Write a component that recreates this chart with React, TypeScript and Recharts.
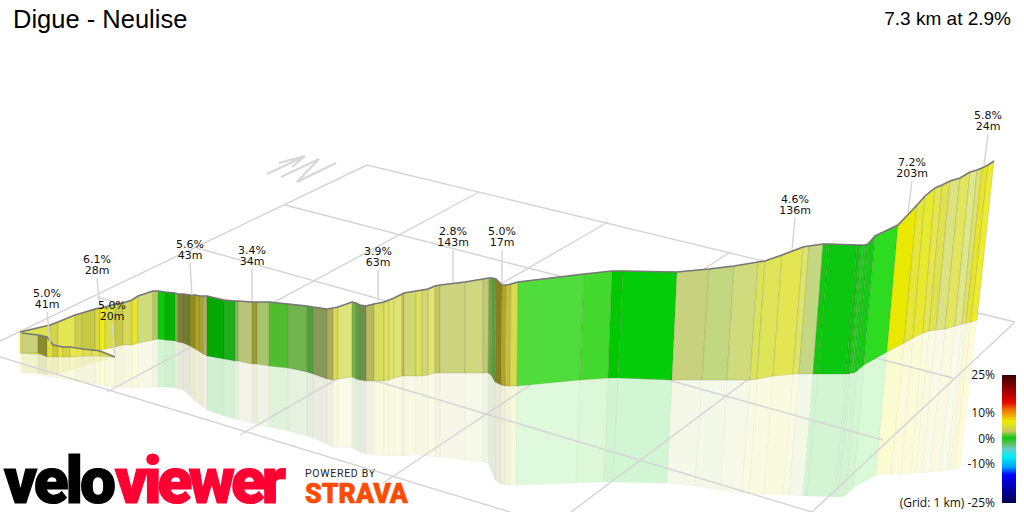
import { ComposedChart, Line, Scatter, XAxis, YAxis, ReferenceArea } from 'recharts'

// route stations: road edge, foot of the wall, foot of the reflection
const roadX = [20,50,58,75,82,95,100,105,115,123,132,138,153,158,165,175,178,183,190,195,200,203,207,224,235,238,252,257,269,288,307,313,327,333,338,352,356,360,366,374,384,389,394,402,404,416,422,428,435,440,465,483,489,492,496,502,506,511,518,584,612,623,677,709,734,758,765,782,803,809,823,829,857,860,862,865,868,875,898,917,925,935,942,950,960,970,977,982,988,994]
const roadY = [332,325,322,315,313,309,308,307,304,303,300,296,291,291,292,293,294,294,295,295,296,296,296,300,301,301,302,302,302,304,306,307,309,308,307,302,303,305,306,304,302,300,298,294,293,291,290,289,286,285,282,279,278,278,279,285,285,284,282,274,271,271,272,269,266,262,261,255,247,246,244,244,245,245,245,245,244,236,225,205,196,188,185,181,178,172,170,168,165,161]
const footX = [20,50,58,75,82,95,100,105,115,123,132,138,153,158,165,175,178,183,190,195,200,203,207,224,235,238,252,257,269,288,307,313,327,333,338,352,356,360,366,374,384,389,394,402,404,416,422,428,435,440,465,483,488,491,495,501,505,510,517,580,608,618,672,702,727,750,757,773,793,799,813,818,846,849,851,854,857,864,887,904,913,923,929,936,945,955,962,966,971,977]
const footY = [353,355,354,352,351,350,350,349,347,345,345,343,340,339,340,341,342,343,346,349,352,354,356,359,361,361,364,364,366,368,372,374,379,380,379,377,379,380,381,381,381,380,378,376,376,376,376,375,373,373,373,373,373,375,382,385,386,386,386,380,378,378,380,380,380,380,379,376,374,374,374,374,374,374,373,373,371,365,352,343,338,333,331,330,329,326,324,323,322,320]
const floorX = [20,50,58,75,82,95,100,105,115,123,132,138,153,158,165,175,178,183,190,195,200,203,207,224,235,238,252,257,269,288,307,313,327,333,338,352,356,360,366,374,384,389,394,402,404,416,422,428,435,440,465,483,488,491,495,501,505,510,516,576,604,613,667,695,720,742,749,764,783,789,803,807,835,838,840,843,846,853,876,891,901,911,916,922,930,940,947,950,954,960]
const floorY = [372,377,378,381,382,384,385,386,387,388,388,388,387,387,387,388,389,390,396,401,405,407,410,416,419,420,423,425,427,431,436,438,444,447,447,448,450,452,454,455,456,456,456,456,456,455,455,456,457,457,460,462,463,470,480,484,485,485,485,483,482,482,483,486,490,493,493,494,495,495,496,496,497,497,497,497,495,488,475,474,474,473,473,473,472,471,470,470,469,468]
const gradeColor = ['#dfe24f','#d2d44e','#e2e654','#cdcf52','#c6c945','#d8da3f','#eeee1e','#d8dc4f','#c8c94b','#d6d85c','#e8e72e','#cfdc7a','#b7c66e','#0ec70e','#00b400','#7ab645','#7e7e3a','#6f7b2e','#8e8d1f','#b0a020','#a7a648','#a9b06a','#00a800','#1cae1c','#7cbf58','#b7c47a','#9e9a36','#a9c46e','#50bc30','#72b450','#50a040','#889858','#b0aa60','#d8dc50','#dde47c','#7ab050','#5f9f3f','#6f8f50','#b8b860','#d8dc60','#dde060','#dde470','#dde470','#c0c060','#d0d870','#dde060','#cfd872','#dee47a','#c0c860','#ccd47f','#cfd880','#c2c878','#6da843','#5f9a3d','#8a7f20','#b0a428','#c4be3e','#d8da50','#50dc3c','#44d92e','#00c800','#05cc09','#c8d27e','#c1d880','#cfdb7c','#dbe25c','#dfe558','#e3e652','#dde46a','#c4d884','#0fc80f','#0cc70f','#10c010','#18c818','#20cc20','#18c818','#18c818','#2ddc20','#e8e800','#e4e63a','#e8ea30','#e5e650','#dfe24f','#dbe280','#e2e560','#dde88a','#dde26c','#e6e52c','#eced30']

// the short first stretch of the route, in front of the main wall
const tailX = [22,38,47,53,58,63,70,83,92,100,115]
const tailY = [333,335,337,345,346,347,347,349,350,351,357]
const tailFootY = [353,353,357,357,357,357,357,356,356,356,357]
const tailFloorY = [373,373,375,374,373,372,370,366,363,361,357]
const tailColor = ['#c8d27c','#8b8c2f','#dede3c','#c8c940','#e0e040','#d5d54a','#e6e64c','#dede50','#e4e45a','#dada50']

// grid of the ground plane, 1 km squares
const gridLines = [
  [[0,341],[367,165]], [[107,392],[479,192]], [[240,435],[608,222]], [[383,483],[730,252]], [[571,512],[873,286]], [[812,512],[1015,322]],
  [[367,165],[1015,322]], [[285,205],[953,378]], [[197,248],[883,440]], [[97,297],[812,512]], [[0,357],[510,512]],
]
const compassStrokes = [
  [[267,174],[305,156]], [[279,163],[305,156]], [[292,167],[305,156]],
  [[281,177],[319,159]], [[319,159],[297,182]], [[297,182],[336,163]],
]

// climb labels
const climbGrade = ['5.0%','6.1%','5.0%','5.6%','3.4%','3.9%','2.8%','5.0%','4.6%','7.2%','5.8%']
const climbLength = ['41m','28m','20m','43m','34m','63m','143m','17m','136m','203m','24m']
const climbLabelX = [47,97,112,190,252,378,453,502,795,912,988]
const climbLabelY = [297,263,309,248,254,255,235,235,203,166,119]
const climbTipX = [50,100,115,192,252,378,453,502,792,908,984]
const climbTipY = [343,308,355,295,301,301,283,283,250,213,165]

const scaleStops = [
  ['0%','#3a0000'],['8%','#7a0000'],['18%','#d00000'],['22%','#e81000'],['27%','#f07000'],['32%','#f0b000'],['36%','#ecec00'],['44%','#c8c860'],['49%','#10c810'],['54%','#60c060'],['58%','#60d0d0'],['64%','#00f0f0'],['72%','#00a0ff'],['78%','#0000ff'],['90%','#0000a0'],['100%','#000050'],
]
const scaleLabels = ['25%','10%','0%','-10%','(Grid: 1 km) -25%']
const scaleLabelY = [379,417,443,468,507]

const quad = (ax: number, ay: number, bx: number, by: number, cx: number, cy: number, dx: number, dy: number) => [
  { x: ax, y: ay }, { x: bx, y: by }, { x: cx, y: cy }, { x: dx, y: dy }, { x: ax, y: ay },
]

const seg = (pts: number[][]) => pts.map(([x, y]) => ({ x, y }))

const plainLine = (key: string, data: any[], stroke: string, strokeWidth: number) => (
  <Line key={key} data={data} dataKey="y" stroke={stroke} strokeWidth={strokeWidth} dot={false} activeDot={false} legendType="none" isAnimationActive={false} />
)

const panel = (key: string, data: any[], fill: string, fillOpacity: number, stroke: string) => (
  <Line key={key} data={data} dataKey="y" stroke={stroke} strokeWidth={0.7} dot={false} activeDot={false} legendType="none" isAnimationActive={false}
    style={{ fill, fillOpacity }} />
)

function ClimbLabel(props: any) {
  const { cx, cy, payload } = props
  return (
    <g fontFamily="DejaVu Sans" fontSize={11} fill="#111" textAnchor="middle">
      <text x={cx} y={cy}>{payload.grade}</text>
      <text x={cx} y={cy + 11}>{payload.len}</text>
    </g>
  )
}

export default function App() {
  const climbs = climbGrade.map((grade, i) => ({ x: climbLabelX[i], y: climbLabelY[i], grade, len: climbLength[i] }))

  return (
    <div style={{ position: 'absolute', left: 0, top: 0, width: 1024, height: 512, background: '#fff' }}>
      <ComposedChart width={1024} height={512} margin={{ top: 0, right: 0, bottom: 0, left: 0 }}>
        <defs>
          <linearGradient id="gradeScale" x1="0" y1="0" x2="0" y2="1">
            {scaleStops.map(([offset, color]) => <stop key={offset} offset={offset} stopColor={color} />)}
          </linearGradient>
        </defs>
        <XAxis dataKey="x" type="number" domain={[0, 1024]} hide />
        <YAxis dataKey="y" type="number" domain={[0, 512]} reversed hide />

        {gradeColor.map((c, i) => panel(`floor${i}`, quad(footX[i], footY[i], footX[i + 1], footY[i + 1], floorX[i + 1], floorY[i + 1], floorX[i], floorY[i]), c, 0.18, 'rgba(120,120,90,0.05)'))}
        {tailColor.map((c, i) => panel(`tfloor${i}`, quad(tailX[i], tailFootY[i], tailX[i + 1], tailFootY[i + 1], tailX[i + 1], tailFloorY[i + 1], tailX[i], tailFloorY[i]), c, 0.18, 'rgba(120,120,90,0.05)'))}

        {gridLines.map((l, i) => plainLine(`grid${i}`, seg(l), '#d4d4d4', 1.4))}
        {compassStrokes.map((l, i) => plainLine(`compass${i}`, seg(l), '#d6d6d6', 2))}

        {gradeColor.map((c, i) => panel(`wall${i}`, quad(roadX[i], roadY[i], roadX[i + 1], roadY[i + 1], footX[i + 1], footY[i + 1], footX[i], footY[i]), c, 1, 'rgba(90,80,30,0.22)'))}
        {plainLine('road', seg(roadX.map((x, i) => [x, roadY[i]])), '#777', 1.6)}

        {tailColor.map((c, i) => panel(`tail${i}`, quad(tailX[i], tailY[i], tailX[i + 1], tailY[i + 1], tailX[i + 1], tailFootY[i + 1], tailX[i], tailFootY[i]), c, 1, 'rgba(90,80,30,0.22)'))}
        {plainLine('tailRoad', seg(tailX.map((x, i) => [x, tailY[i]])), '#777', 1.6)}

        {climbTipX.map((x, i) => plainLine(`leader${i}`, seg([[climbLabelX[i], climbLabelY[i] + 15], [x, climbTipY[i]]]), '#d4d4d4', 1.4))}
        <Scatter data={climbs} shape={ClimbLabel} isAnimationActive={false} legendType="none" />

        <ReferenceArea x1={1002} x2={1016} y1={375} y2={503} fill="url(#gradeScale)" fillOpacity={1} stroke="none" ifOverflow="visible" />

        <text x={13} y={28} fontFamily="Liberation Sans" fontSize={25.5} fill="#000">Digue - Neulise</text>
        <text x={1011} y={25} fontFamily="Liberation Sans" fontSize={19} fill="#000" textAnchor="end">7.3 km at 2.9%</text>
        {scaleLabels.map((t, i) => (
          <text key={t} x={995} y={scaleLabelY[i]} fontFamily="Open Sans" fontSize={12} fill="#111" textAnchor="end">{t}</text>
        ))}

        <text x={4} y={503} fontFamily="Roboto" fontWeight={900} fontSize={64} fill="#000" stroke="#000" strokeWidth={1.2} textLength={112} lengthAdjust="spacing">velo</text>
        <text x={115} y={503} fontFamily="Roboto" fontWeight={900} fontSize={64} fill="#ff0033" stroke="#ff0033" strokeWidth={1.2} textLength={171} lengthAdjust="spacing">viewer</text>
        <text x={305} y={477} fontFamily="Roboto" fontSize={10.5} fill="#222" textLength={70}>POWERED BY</text>
        <text x={305} y={503} fontFamily="Roboto" fontWeight={900} fontSize={27} fill="#fc4c02" stroke="#fc4c02" strokeWidth={0.6} textLength={103} lengthAdjust="spacingAndGlyphs">STRAVA</text>
      </ComposedChart>
    </div>
  )
}
